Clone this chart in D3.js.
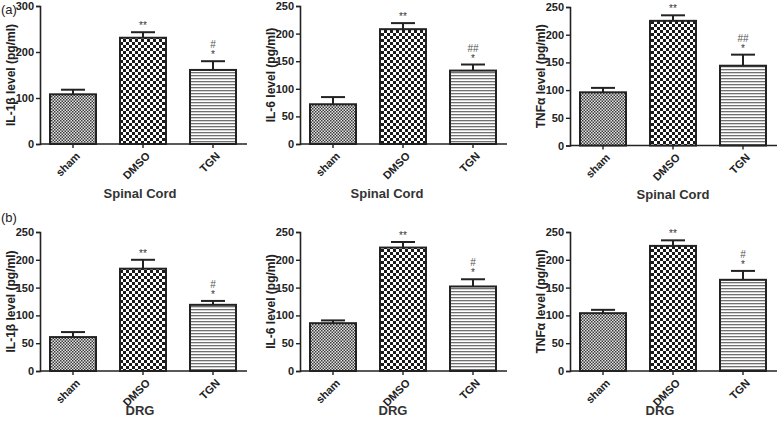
<!DOCTYPE html>
<html><head><meta charset="utf-8">
<script src="https://cdn.jsdelivr.net/npm/d3@7"></script>
<style>body{margin:0;background:#fff}svg{display:block}text{font-family:"Liberation Sans",Arial,sans-serif}</style>
</head><body><svg id="c" width="780" height="422"></svg>
<script>
const categories = ["sham", "DMSO", "TGN"];
const panelTitles = ["IL-1β level (pg/ml)", "IL-6 level (pg/ml)", "TNFα level (pg/ml)", "IL-1β level (pg/ml)", "IL-6 level (pg/ml)", "TNFα level (pg/ml)"];
const tissue = ["Spinal Cord", "Spinal Cord", "Spinal Cord", "DRG", "DRG", "DRG"];
const yMax = [300, 250, 250, 250, 250, 250];
const tickStep = [100, 50, 50, 50, 50, 50];
const means = [
  [108, 231, 161],
  [72, 208, 133],
  [96, 225, 144],
  [61, 184, 119],
  [86, 222, 152],
  [104, 225, 164]
];
const errors = [
  [10, 12, 19],
  [13, 11, 11],
  [8, 10, 20],
  [9, 16, 7],
  [5, 10, 13],
  [6, 10, 16]
];
const starMarks = [["", "**", "*"], ["", "**", "*"], ["", "**", "*"], ["", "**", "*"], ["", "**", "*"], ["", "**", "*"]];
const hashMarks = [["", "", "#"], ["", "", "##"], ["", "", "##"], ["", "", "#"], ["", "", "#"], ["", "", "#"]];
const rowLabels = ["(a)", "(b)"];

const svg = d3.select("#c");
const defs = svg.append("defs");
const p1 = defs.append("pattern").attr("id","pSham").attr("patternUnits","userSpaceOnUse").attr("width",3).attr("height",3);
p1.append("rect").attr("width",3).attr("height",3).attr("fill","#e4e4e4");
p1.append("rect").attr("width",1.5).attr("height",1.5).attr("fill","#3a3a3a");
p1.append("rect").attr("x",1.5).attr("y",1.5).attr("width",1.5).attr("height",1.5).attr("fill","#3a3a3a");
const p2 = defs.append("pattern").attr("id","pDMSO").attr("patternUnits","userSpaceOnUse").attr("width",6).attr("height",6);
p2.append("rect").attr("width",6).attr("height",6).attr("fill","#fff");
p2.append("rect").attr("width",3).attr("height",3).attr("fill","#1a1a1a");
p2.append("rect").attr("x",3).attr("y",3).attr("width",3).attr("height",3).attr("fill","#1a1a1a");
const p3 = defs.append("pattern").attr("id","pTGN").attr("patternUnits","userSpaceOnUse").attr("width",4).attr("height",3);
p3.append("rect").attr("width",4).attr("height",3).attr("fill","#fff");
p3.append("rect").attr("width",4).attr("height",1.3).attr("fill","#707070");
const fills = ["url(#pSham)", "url(#pDMSO)", "url(#pTGN)"];

const layout = [
  {x0: 40, yTop: 6, yBot: 144, tx: 100, ty: 54},
  {x0: 300, yTop: 6, yBot: 144, tx: 87, ty: 54},
  {x0: 570, yTop: 7, yBot: 145.5, tx: 103, ty: 53},
  {x0: 40, yTop: 232, yBot: 371, tx: 100, ty: 44},
  {x0: 300, yTop: 232, yBot: 371, tx: 93, ty: 44},
  {x0: 570, yTop: 232, yBot: 371, tx: 90, ty: 44}
];

means.forEach((vals, i) => {
  const L = layout[i];
  const g = svg.append("g");
  const x = d3.scaleBand().domain(categories).range([L.x0 - 2, L.x0 + 208]).paddingInner(24/70).paddingOuter(12/70);
  const y = d3.scaleLinear().domain([0, yMax[i]]).range([L.yBot, L.yTop]);
  const ya = g.append("g").attr("transform", `translate(${L.x0},0)`)
    .call(d3.axisLeft(y).tickValues(d3.range(0, yMax[i] + 1, tickStep[i])).tickSize(4).tickPadding(2));
  ya.select(".domain").attr("stroke","#222").attr("stroke-width",1.6);
  ya.selectAll(".tick line").attr("stroke","#222").attr("stroke-width",1.4);
  ya.selectAll(".tick text").attr("font-size",11).attr("font-weight","bold").attr("fill","#222");
  const xa = g.append("g").attr("transform", `translate(0,${L.yBot})`)
    .call(d3.axisBottom(x).tickSize(4).tickSizeOuter(0));
  xa.select(".domain").attr("d", `M${L.x0},0H${L.x0 + 207}`).attr("stroke","#222").attr("stroke-width",1.6);
  xa.selectAll(".tick line").attr("stroke","#222").attr("stroke-width",1.4);
  xa.selectAll(".tick text")
    .attr("x", null).attr("y", null).attr("dy", "0.35em")
    .attr("transform", "translate(5,10) rotate(-45)")
    .attr("text-anchor","end")
    .attr("font-size",11).attr("font-weight","bold").attr("fill","#222");
  categories.forEach((c, j) => {
    const cx = x(c) + x.bandwidth()/2;
    g.append("line").attr("x1",cx).attr("x2",cx).attr("y1",y(vals[j])).attr("y2",y(vals[j]+errors[i][j])).attr("stroke","#222").attr("stroke-width",2);
    g.append("line").attr("x1",cx-12).attr("x2",cx+12).attr("y1",y(vals[j]+errors[i][j])).attr("y2",y(vals[j]+errors[i][j])).attr("stroke","#222").attr("stroke-width",2);
  });
  g.selectAll("rect.bar").data(vals).join("rect").attr("class","bar")
    .attr("x",(d,j)=>x(categories[j])).attr("width",x.bandwidth())
    .attr("y",d=>y(d)).attr("height",d=>L.yBot - y(d))
    .attr("fill",(d,j)=>fills[j]).attr("stroke","#222").attr("stroke-width",2);
  categories.forEach((c, j) => {
    const cx = x(c) + x.bandwidth()/2;
    const top = y(vals[j]+errors[i][j]);
    if (starMarks[i][j]) g.append("text").attr("x",cx).attr("y", top - 3).attr("text-anchor","middle")
      .attr("font-size",10).attr("fill","#333").text(starMarks[i][j]);
    if (hashMarks[i][j]) g.append("text").attr("x",cx).attr("y", top - 13).attr("text-anchor","middle")
      .attr("font-size",10).attr("fill","#555").text(hashMarks[i][j]);
  });
  g.append("text").attr("transform",`translate(${L.x0 - 29},${(L.yTop+L.yBot)/2}) rotate(-90)`)
    .attr("text-anchor","middle").attr("dy","0.35em").attr("font-size",12).attr("font-weight","bold").attr("fill","#222").text(panelTitles[i]);
  g.append("text").attr("x", L.x0 + L.tx).attr("y", L.yBot + L.ty).attr("text-anchor","middle")
    .attr("font-size",13).attr("font-weight","bold").attr("fill","#333").text(tissue[i]);
});
svg.append("text").attr("x",1).attr("y",14).attr("font-size",13).attr("fill","#222").text(rowLabels[0]);
svg.append("text").attr("x",1).attr("y",222).attr("font-size",13).attr("fill","#222").text(rowLabels[1]);
</script></body></html>
